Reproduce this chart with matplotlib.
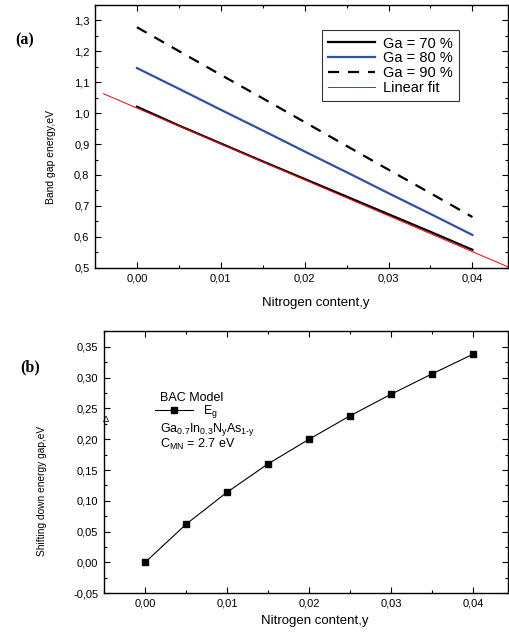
import numpy as np
import matplotlib
matplotlib.use("Agg")
import matplotlib.pyplot as plt
from matplotlib.ticker import MultipleLocator, FuncFormatter
from matplotlib.lines import Line2D

plt.rcParams["font.family"] = ["Liberation Sans", "DejaVu Sans"]
plt.rcParams["mathtext.fontset"] = "custom"
plt.rcParams["mathtext.rm"] = "Liberation Sans"
plt.rcParams["mathtext.default"] = "regular"

# panel (a): band gap vs nitrogen content
y_n = [0.0, 0.005, 0.01, 0.015, 0.02, 0.025, 0.03, 0.035, 0.04]
eg_ga70 = [1.021, 0.960, 0.902, 0.844, 0.787, 0.730, 0.673, 0.616, 0.558]
eg_ga80 = [1.146, 1.079, 1.011, 0.944, 0.876, 0.809, 0.741, 0.674, 0.606]
eg_ga90 = [1.278, 1.201, 1.124, 1.048, 0.971, 0.894, 0.817, 0.741, 0.664]
fit_x = [-0.004, 0.0442]
fit_y = [1.063, 0.503]

# panel (b): BAC model shift
shift_x = [0.0, 0.005, 0.01, 0.015, 0.02, 0.025, 0.03, 0.035, 0.04]
shift_y = [0.0, 0.062, 0.114, 0.160, 0.200, 0.238, 0.273, 0.306, 0.338]


def comma_fmt(decimals):
    return FuncFormatter(lambda v, pos: f"{v:.{decimals}f}".replace(".", ",").replace("-0,00", "0,00"))


def style_axes(ax):
    for s in ax.spines.values():
        s.set_linewidth(1.0)
    ax.tick_params(which="both", direction="in", top=True, right=True, labelsize=8, pad=4)
    ax.tick_params(which="major", length=4, width=0.8)
    ax.tick_params(which="minor", length=2, width=0.8)


fig = plt.figure(figsize=(5.09, 6.34), dpi=100)

# ---- (a)
ax1 = fig.add_axes([95 / 509, 1 - 267.7 / 634, 413.5 / 509, 262.7 / 634])
ax1.plot(y_n, eg_ga70, color="black", linewidth=1.6, label="Ga = 70 %")
ax1.plot(y_n, eg_ga80, color="#3050a8", linewidth=1.6, label="Ga = 80 %")
ax1.plot(y_n, eg_ga90, color="black", linewidth=1.6, linestyle=(0, (5, 4)), label="Ga = 90 %")
ax1.plot(fit_x, fit_y, color="red", linewidth=0.7, label="Linear fit")
ax1.set_xlim(-0.005, 0.0443)
ax1.set_ylim(0.5, 1.35)
ax1.xaxis.set_major_locator(MultipleLocator(0.01))
ax1.xaxis.set_minor_locator(MultipleLocator(0.005))
ax1.yaxis.set_major_locator(MultipleLocator(0.1))
ax1.yaxis.set_minor_locator(MultipleLocator(0.05))
ax1.xaxis.set_major_formatter(comma_fmt(2))
ax1.yaxis.set_major_formatter(comma_fmt(1))
style_axes(ax1)
ax1.set_xlabel("Nitrogen content,y", fontsize=9.5)
ax1.set_ylabel("Band gap energy,eV", fontsize=7.5)
ax1.xaxis.set_label_coords(0.533, -0.112)
ax1.yaxis.set_label_coords(-0.094, 0.42)
leg = ax1.legend(loc="upper left", bbox_to_anchor=(0.548, 0.905), fontsize=10.5, frameon=True,
                 fancybox=False, edgecolor="black", handlelength=3.2, handletextpad=0.55,
                 labelspacing=0.05, borderpad=0.45, borderaxespad=0)
leg.get_frame().set_linewidth(0.8)
fig.text(25 / 509, 1 - 40 / 634, "(a)", fontsize=11.5, fontweight="bold", family="Liberation Serif",
         ha="center", va="center")

# ---- (b)
ax2 = fig.add_axes([104 / 509, 1 - 593.3 / 634, 404.5 / 509, 262 / 634])
ax2.plot(shift_x, shift_y, color="black", linewidth=0.8, marker="s", markersize=4.5)
ax2.set_xlim(-0.005, 0.0443)
ax2.set_ylim(-0.05, 0.375)
ax2.xaxis.set_major_locator(MultipleLocator(0.01))
ax2.xaxis.set_minor_locator(MultipleLocator(0.005))
ax2.yaxis.set_major_locator(MultipleLocator(0.05))
ax2.yaxis.set_minor_locator(MultipleLocator(0.025))
ax2.xaxis.set_major_formatter(comma_fmt(2))
ax2.yaxis.set_major_formatter(comma_fmt(2))
style_axes(ax2)
ax2.set_xlabel("Nitrogen content,y", fontsize=9.5)
ax2.set_ylabel("Shifting down energy gap,eV", fontsize=7.3)
ax2.xaxis.set_label_coords(0.52, -0.083)
ax2.yaxis.set_label_coords(-0.14, 0.392)

fig.text(30 / 509, 1 - 367 / 634, "(b)", fontsize=11.5, fontweight="bold", family="Liberation Serif",
         ha="center", va="center")
fig.text(106 / 509, 1 - 419 / 634, "Δ", fontsize=6.5, ha="center", va="center")

# text legend of panel (b)
fig.text(160 / 509, 1 - 401 / 634, "BAC Model", fontsize=9, ha="left", va="baseline")
fig.add_artist(Line2D([155 / 509, 193 / 509], [1 - 410 / 634, 1 - 410 / 634], color="black",
                      linewidth=0.8, transform=fig.transFigure))
fig.add_artist(Line2D([174 / 509], [1 - 410 / 634], color="black", marker="s", markersize=4.5,
                      linestyle="none", transform=fig.transFigure))
fig.text(203 / 509, 1 - 414 / 634, "E$_g$", fontsize=9, ha="left", va="baseline")
fig.text(160 / 509, 1 - 432 / 634, r"Ga$_{0.7}$In$_{0.3}$N$_y$As$_{1\text{-}y}$", fontsize=9,
         ha="left", va="baseline")
fig.text(160 / 509, 1 - 448 / 634, "C$_{MN}$ = 2.7 eV", fontsize=9, ha="left", va="baseline")

fig.savefig("out.png", dpi=100)
